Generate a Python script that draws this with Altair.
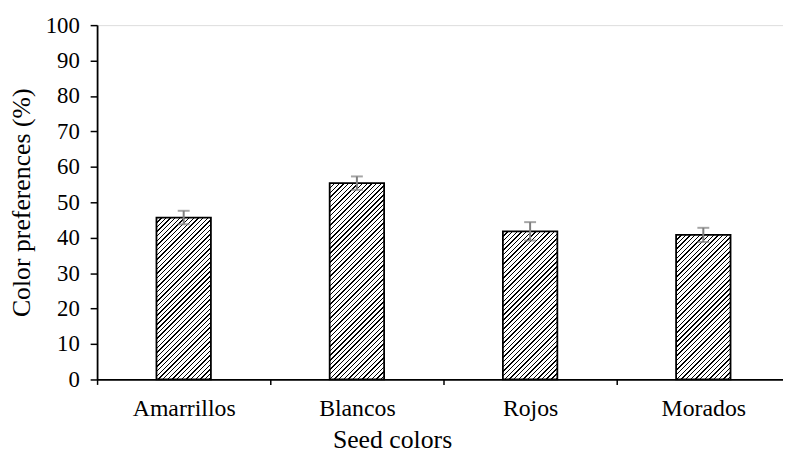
import altair as alt
import pandas as pd

categories = ["Amarrillos", "Blancos", "Rojos", "Morados"]
values = [45.7, 55.4, 41.8, 40.8]
errors = [1.9, 1.9, 2.6, 2.0]
y_ticks = [0, 10, 20, 30, 40, 50, 60, 70, 80, 90, 100]

df = pd.DataFrame({"cat": categories, "val": values, "err": errors})
df["lo"] = df["val"] - df["err"]
df["hi"] = df["val"] + df["err"]

PLOT_H = 358
BAR_W = 55
FONT = "Liberation Serif"
PERIOD = 4.7
LINE = 1.4


def hatch(value):
    w = BAR_W
    h = value / 100 * PLOT_H
    denom = w * w + h * h
    stops = []
    k = 0
    total = w + h
    while k * PERIOD < total:
        a = k * PERIOD
        b = a + LINE
        c = (k + 1) * PERIOD
        ta = min(w * a / denom, 1)
        tb = min(w * b / denom, 1)
        tc = min(w * c / denom, 1)
        stops += [
            {"offset": ta, "color": "#000000"},
            {"offset": tb, "color": "#000000"},
            {"offset": tb, "color": "#ffffff"},
            {"offset": tc, "color": "#ffffff"},
        ]
        k += 1
    return {"gradient": "linear", "x1": 0, "y1": 0, "x2": 1, "y2": h / w, "stops": stops}


x_axis = alt.Axis(
    title="Seed colors",
    labelAngle=0,
    tickBand="extent",
    tickSize=5,
    tickColor="#000000",
    tickWidth=1.5,
    domainColor="#000000",
    domainWidth=1.8,
    labelFont=FONT,
    labelFontSize=24,
    labelColor="#000000",
    labelPadding=12,
    titleFont=FONT,
    titleFontSize=26,
    titleFontWeight="normal",
    titleColor="#000000",
    titleX=298,
    titleY=48,
    grid=False,
)

y_axis = alt.Axis(
    title="Color preferences (%)",
    values=y_ticks,
    labelOverlap=False,
    tickSize=7,
    tickColor="#000000",
    tickWidth=1.5,
    domainColor="#000000",
    domainWidth=1.8,
    labelFont=FONT,
    labelFontSize=23,
    labelColor="#000000",
    labelPadding=11,
    titleFont=FONT,
    titleFontSize=26,
    titleFontWeight="normal",
    titleColor="#000000",
    titlePadding=11,
    grid=False,
)

x_scale = alt.Scale(range=[0, 700], paddingInner=0, paddingOuter=0)
y_scale = alt.Scale(domain=[0, 100], nice=False)

layers = []
for cat, val in zip(categories, values):
    layers.append(
        alt.Chart(df)
        .transform_filter(alt.datum.cat == cat)
        .mark_bar(size=BAR_W, fill=hatch(val), stroke="#000000", strokeWidth=1.8)
        .encode(
            x=alt.X("cat:N", sort=categories, scale=x_scale, axis=x_axis),
            y=alt.Y("val:Q", scale=y_scale, axis=y_axis),
        )
    )

err_rule = alt.Chart(df).mark_rule(color="#7f7f7f", strokeWidth=2).encode(
    x=alt.X("cat:N", sort=categories, scale=x_scale, axis=x_axis),
    y=alt.Y("lo:Q", scale=y_scale, axis=y_axis),
    y2="hi:Q",
)
cap_hi = alt.Chart(df).mark_tick(color="#7f7f7f", thickness=2, size=12, orient="horizontal").encode(
    x=alt.X("cat:N", sort=categories, scale=x_scale, axis=x_axis),
    y=alt.Y("hi:Q", scale=y_scale, axis=y_axis),
)
cap_lo = alt.Chart(df).mark_tick(color="#7f7f7f", thickness=2, size=12, orient="horizontal").encode(
    x=alt.X("cat:N", sort=categories, scale=x_scale, axis=x_axis),
    y=alt.Y("lo:Q", scale=y_scale, axis=y_axis),
)

chart = (
    alt.layer(*layers, err_rule, cap_hi, cap_lo)
    .properties(
        width=693,
        height=PLOT_H,
        autosize=alt.AutoSizeParams(type="none"),
        padding={"left": 90, "top": 15, "right": 0, "bottom": 73},
    )
    .configure_view(stroke=None)
    .configure(background="#ffffff")
)

chart.save("out.html", embed_options={"renderer": "svg", "actions": False})
